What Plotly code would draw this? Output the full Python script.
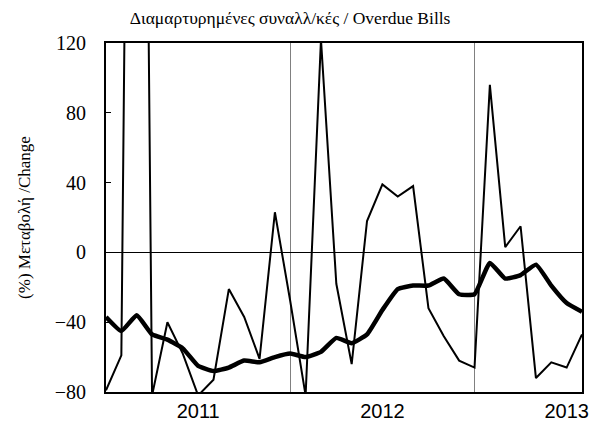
import plotly.graph_objects as go

months = ["2010-07", "2010-08", "2010-09", "2010-10", "2010-11", "2010-12",
          "2011-01", "2011-02", "2011-03", "2011-04", "2011-05", "2011-06",
          "2011-07", "2011-08", "2011-09", "2011-10", "2011-11", "2011-12",
          "2012-01", "2012-02", "2012-03", "2012-04", "2012-05", "2012-06",
          "2012-07", "2012-08", "2012-09", "2012-10", "2012-11", "2012-12",
          "2013-01", "2013-02"]

monthly_change = [-79, -59, 850, -82, -40, -58, -82, -73, -21, -37, -61, 23,
                  -28, -82, 122, -18, -64, 18, 39, 32, 38, -32, -48, -62,
                  -66, 96, 3, 15, -72, -63, -66, -47]

smoothed_change = [-37, -45, -36, -47, -50, -55, -65, -68, -66, -62, -63, -60,
                   -58, -60, -57, -49, -52, -47, -33, -21, -19, -19, -15, -24,
                   -24, -6, -15, -13, -7, -19, -29, -34]

year_labels = ["2011", "2012", "2013"]

x = list(range(len(months)))
year_ticks = [i for i, m in enumerate(months) if m.endswith("-01")]
mid_year = [i for i, m in enumerate(months) if m.endswith("-07")]

fig = go.Figure()
fig.add_trace(go.Scatter(x=x, y=monthly_change, mode="lines", name="Monthly",
                         line=dict(color="black", width=2)))
fig.add_trace(go.Scatter(x=x, y=smoothed_change, mode="lines", name="Smoothed",
                         line=dict(color="black", width=4.5, shape="spline", smoothing=0.4)))

fig.update_layout(
    width=592, height=427,
    margin=dict(l=106, r=10, t=43, b=35),
    paper_bgcolor="white", plot_bgcolor="white",
    showlegend=False,
    title=dict(text="Διαμαρτυρημένες συναλλ/κές / Overdue Bills",
               x=0.49, xanchor="center", y=0.958, yanchor="middle",
               font=dict(family="Liberation Serif", size=17.5, color="black")),
)
fig.update_xaxes(
    automargin=False,
    range=[0, len(months) - 1],
    tickmode="array", tickvals=year_ticks, ticktext=year_labels,
    tickfont=dict(family="Liberation Sans", size=20, color="black"),
    ticklabeloverflow="allow",
    ticks="", showgrid=False, zeroline=False,
    showline=True, linecolor="black", linewidth=2, mirror=True,
    minor=dict(tickmode="array", tickvals=mid_year, showgrid=True,
               gridcolor="#808080", gridwidth=1, ticks=""),
)
fig.update_yaxes(
    automargin=False,
    range=[-80, 120], tickmode="linear", tick0=-80, dtick=40,
    tickfont=dict(family="Liberation Serif", size=20, color="black"),
    ticklabelstandoff=14,
    ticks="inside", ticklen=5, tickcolor="black",
    showgrid=False,
    zeroline=True, zerolinecolor="black", zerolinewidth=1,
    showline=True, linecolor="black", linewidth=2, mirror=True,
    title=dict(text="(%) Μεταβολή /Change", standoff=20,
               font=dict(family="Liberation Serif", size=17, color="black")),
)

fig.write_html("out.html", config={"displayModeBar": False},
               post_script="document.body.style.margin='0';")
